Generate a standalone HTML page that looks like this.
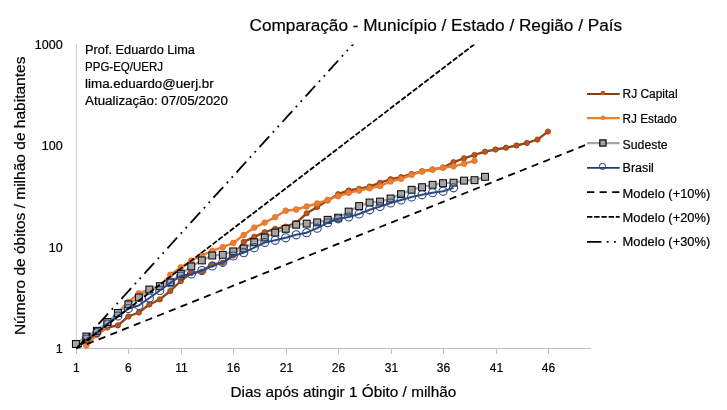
<!DOCTYPE html>
<html><head><meta charset="utf-8"><style>
html,body{margin:0;padding:0;background:#fff;}
svg{display:block;will-change:transform;}
text{font-family:"Liberation Sans",sans-serif;fill:#000;stroke:#000;stroke-width:0.2px;}
</style></head><body>
<svg width="727" height="410" viewBox="0 0 727 410">
<rect width="727" height="410" fill="#fff"/>
<defs><clipPath id="pc"><rect x="60" y="44.5" width="540" height="310"/></clipPath></defs>

<text x="249.6" y="31" font-size="17.2" textLength="372.5" lengthAdjust="spacingAndGlyphs">Comparação - Município / Estado / Região / País</text>
<g stroke="#bfbfbf" stroke-width="1" fill="none" shape-rendering="crispEdges">
<line x1="76.5" y1="43.6" x2="76.5" y2="353.5" stroke="#d0d0d0"/>
<line x1="76" y1="348.5" x2="590.5" y2="348.5"/>
<line x1="76.5" y1="348.5" x2="76.5" y2="353.5"/>
<line x1="128.5" y1="348.5" x2="128.5" y2="353.5"/>
<line x1="181.5" y1="348.5" x2="181.5" y2="353.5"/>
<line x1="233.5" y1="348.5" x2="233.5" y2="353.5"/>
<line x1="286.5" y1="348.5" x2="286.5" y2="353.5"/>
<line x1="338.5" y1="348.5" x2="338.5" y2="353.5"/>
<line x1="391.5" y1="348.5" x2="391.5" y2="353.5"/>
<line x1="443.5" y1="348.5" x2="443.5" y2="353.5"/>
<line x1="496.5" y1="348.5" x2="496.5" y2="353.5"/>
<line x1="548.5" y1="348.5" x2="548.5" y2="353.5"/>
</g>
<text x="62.6" y="352.7" font-size="12.5" text-anchor="end">1</text>
<text x="62.6" y="251.5" font-size="12.5" text-anchor="end">10</text>
<text x="62.6" y="150.2" font-size="12.5" text-anchor="end">100</text>
<text x="62.6" y="49.0" font-size="12.5" text-anchor="end">1000</text>
<text x="76.4" y="372" font-size="12" text-anchor="middle">1</text>
<text x="128.4" y="372" font-size="12" text-anchor="middle">6</text>
<text x="181.4" y="372" font-size="12" text-anchor="middle">11</text>
<text x="233.4" y="372" font-size="12" text-anchor="middle">16</text>
<text x="286.4" y="372" font-size="12" text-anchor="middle">21</text>
<text x="338.4" y="372" font-size="12" text-anchor="middle">26</text>
<text x="391.4" y="372" font-size="12" text-anchor="middle">31</text>
<text x="443.4" y="372" font-size="12" text-anchor="middle">36</text>
<text x="496.4" y="372" font-size="12" text-anchor="middle">41</text>
<text x="548.4" y="372" font-size="12" text-anchor="middle">46</text>
<text x="230.5" y="396.5" font-size="15" textLength="225.8" lengthAdjust="spacingAndGlyphs">Dias após atingir 1 Óbito / milhão</text>
<text transform="translate(25.3,335.1) rotate(-90)" x="0" y="0" font-size="15" textLength="278.5" lengthAdjust="spacingAndGlyphs">Número de óbitos / milhão de habitantes</text>
<text x="85.1" y="53.70" font-size="12" textLength="109.8" lengthAdjust="spacingAndGlyphs">Prof. Eduardo Lima</text>
<text x="85.1" y="70.60" font-size="12" textLength="77.9" lengthAdjust="spacingAndGlyphs">PPG-EQ/UERJ</text>
<text x="85.1" y="87.90" font-size="12" textLength="128.6" lengthAdjust="spacingAndGlyphs">lima.eduardo@uerj.br</text>
<text x="85.1" y="105.10" font-size="12" textLength="142.8" lengthAdjust="spacingAndGlyphs">Atualização: 07/05/2020</text>
<g clip-path="url(#pc)">
<polyline points="86.39,342.00 96.88,334.50 107.37,327.50 117.86,325.40 128.35,316.50 138.84,312.50 149.33,304.50 159.82,299.40 170.31,291.00 180.80,281.00 191.29,273.00 201.78,271.60 212.27,264.50 222.76,262.70 233.25,255.50 243.74,241.90 254.23,236.80 264.72,232.20 275.21,228.80 285.70,226.60 296.19,222.90 306.68,213.30 317.17,207.00 327.66,200.50 338.15,194.20 348.64,190.50 359.13,188.80 369.62,186.50 380.11,182.80 390.60,179.20 401.09,177.10 411.58,174.00 422.07,171.30 432.56,169.50 443.05,167.60 453.54,162.10 464.03,158.30 474.52,154.90 485.01,151.70 495.50,149.50 505.99,147.70 516.48,145.50 526.97,142.90 537.46,139.60 547.95,131.60" fill="none" stroke="#94461A" stroke-width="2.4" stroke-linejoin="round"/>
<circle cx="86.39" cy="342.00" r="2.65" fill="#B9581A" stroke="#8A3F10" stroke-width="0.8"/>
<circle cx="96.88" cy="334.50" r="2.65" fill="#B9581A" stroke="#8A3F10" stroke-width="0.8"/>
<circle cx="107.37" cy="327.50" r="2.65" fill="#B9581A" stroke="#8A3F10" stroke-width="0.8"/>
<circle cx="117.86" cy="325.40" r="2.65" fill="#B9581A" stroke="#8A3F10" stroke-width="0.8"/>
<circle cx="128.35" cy="316.50" r="2.65" fill="#B9581A" stroke="#8A3F10" stroke-width="0.8"/>
<circle cx="138.84" cy="312.50" r="2.65" fill="#B9581A" stroke="#8A3F10" stroke-width="0.8"/>
<circle cx="149.33" cy="304.50" r="2.65" fill="#B9581A" stroke="#8A3F10" stroke-width="0.8"/>
<circle cx="159.82" cy="299.40" r="2.65" fill="#B9581A" stroke="#8A3F10" stroke-width="0.8"/>
<circle cx="170.31" cy="291.00" r="2.65" fill="#B9581A" stroke="#8A3F10" stroke-width="0.8"/>
<circle cx="180.80" cy="281.00" r="2.65" fill="#B9581A" stroke="#8A3F10" stroke-width="0.8"/>
<circle cx="191.29" cy="273.00" r="2.65" fill="#B9581A" stroke="#8A3F10" stroke-width="0.8"/>
<circle cx="201.78" cy="271.60" r="2.65" fill="#B9581A" stroke="#8A3F10" stroke-width="0.8"/>
<circle cx="212.27" cy="264.50" r="2.65" fill="#B9581A" stroke="#8A3F10" stroke-width="0.8"/>
<circle cx="222.76" cy="262.70" r="2.65" fill="#B9581A" stroke="#8A3F10" stroke-width="0.8"/>
<circle cx="233.25" cy="255.50" r="2.65" fill="#B9581A" stroke="#8A3F10" stroke-width="0.8"/>
<circle cx="243.74" cy="241.90" r="2.65" fill="#B9581A" stroke="#8A3F10" stroke-width="0.8"/>
<circle cx="254.23" cy="236.80" r="2.65" fill="#B9581A" stroke="#8A3F10" stroke-width="0.8"/>
<circle cx="264.72" cy="232.20" r="2.65" fill="#B9581A" stroke="#8A3F10" stroke-width="0.8"/>
<circle cx="275.21" cy="228.80" r="2.65" fill="#B9581A" stroke="#8A3F10" stroke-width="0.8"/>
<circle cx="285.70" cy="226.60" r="2.65" fill="#B9581A" stroke="#8A3F10" stroke-width="0.8"/>
<circle cx="296.19" cy="222.90" r="2.65" fill="#B9581A" stroke="#8A3F10" stroke-width="0.8"/>
<circle cx="306.68" cy="213.30" r="2.65" fill="#B9581A" stroke="#8A3F10" stroke-width="0.8"/>
<circle cx="317.17" cy="207.00" r="2.65" fill="#B9581A" stroke="#8A3F10" stroke-width="0.8"/>
<circle cx="327.66" cy="200.50" r="2.65" fill="#B9581A" stroke="#8A3F10" stroke-width="0.8"/>
<circle cx="338.15" cy="194.20" r="2.65" fill="#B9581A" stroke="#8A3F10" stroke-width="0.8"/>
<circle cx="348.64" cy="190.50" r="2.65" fill="#B9581A" stroke="#8A3F10" stroke-width="0.8"/>
<circle cx="359.13" cy="188.80" r="2.65" fill="#B9581A" stroke="#8A3F10" stroke-width="0.8"/>
<circle cx="369.62" cy="186.50" r="2.65" fill="#B9581A" stroke="#8A3F10" stroke-width="0.8"/>
<circle cx="380.11" cy="182.80" r="2.65" fill="#B9581A" stroke="#8A3F10" stroke-width="0.8"/>
<circle cx="390.60" cy="179.20" r="2.65" fill="#B9581A" stroke="#8A3F10" stroke-width="0.8"/>
<circle cx="401.09" cy="177.10" r="2.65" fill="#B9581A" stroke="#8A3F10" stroke-width="0.8"/>
<circle cx="411.58" cy="174.00" r="2.65" fill="#B9581A" stroke="#8A3F10" stroke-width="0.8"/>
<circle cx="422.07" cy="171.30" r="2.65" fill="#B9581A" stroke="#8A3F10" stroke-width="0.8"/>
<circle cx="432.56" cy="169.50" r="2.65" fill="#B9581A" stroke="#8A3F10" stroke-width="0.8"/>
<circle cx="443.05" cy="167.60" r="2.65" fill="#B9581A" stroke="#8A3F10" stroke-width="0.8"/>
<circle cx="453.54" cy="162.10" r="2.65" fill="#B9581A" stroke="#8A3F10" stroke-width="0.8"/>
<circle cx="464.03" cy="158.30" r="2.65" fill="#B9581A" stroke="#8A3F10" stroke-width="0.8"/>
<circle cx="474.52" cy="154.90" r="2.65" fill="#B9581A" stroke="#8A3F10" stroke-width="0.8"/>
<circle cx="485.01" cy="151.70" r="2.65" fill="#B9581A" stroke="#8A3F10" stroke-width="0.8"/>
<circle cx="495.50" cy="149.50" r="2.65" fill="#B9581A" stroke="#8A3F10" stroke-width="0.8"/>
<circle cx="505.99" cy="147.70" r="2.65" fill="#B9581A" stroke="#8A3F10" stroke-width="0.8"/>
<circle cx="516.48" cy="145.50" r="2.65" fill="#B9581A" stroke="#8A3F10" stroke-width="0.8"/>
<circle cx="526.97" cy="142.90" r="2.65" fill="#B9581A" stroke="#8A3F10" stroke-width="0.8"/>
<circle cx="537.46" cy="139.60" r="2.65" fill="#B9581A" stroke="#8A3F10" stroke-width="0.8"/>
<circle cx="547.95" cy="131.60" r="2.65" fill="#B9581A" stroke="#8A3F10" stroke-width="0.8"/>
<polyline points="86.39,345.30 96.88,335.00 107.37,326.00 117.86,312.00 128.35,302.00 138.84,293.30 149.33,289.50 159.82,286.00 170.31,274.80 180.80,267.40 191.29,260.70 201.78,255.50 212.27,250.80 222.76,247.20 233.25,243.00 243.74,235.00 254.23,227.60 264.72,222.60 275.21,217.10 285.70,210.70 296.19,209.50 306.68,206.50 317.17,203.50 327.66,199.90 338.15,196.20 348.64,192.80 359.13,190.50 369.62,188.30 380.11,186.10 390.60,181.50 401.09,178.80 411.58,174.80 422.07,171.50 432.56,169.60 443.05,167.70 453.54,166.30 464.03,163.70 474.52,160.80" fill="none" stroke="#ED7D31" stroke-width="2.4" stroke-linejoin="round"/>
<circle cx="86.39" cy="345.30" r="2.9" fill="#ED7D31" stroke="#D96E28" stroke-width="0.6"/>
<circle cx="96.88" cy="335.00" r="2.9" fill="#ED7D31" stroke="#D96E28" stroke-width="0.6"/>
<circle cx="107.37" cy="326.00" r="2.9" fill="#ED7D31" stroke="#D96E28" stroke-width="0.6"/>
<circle cx="117.86" cy="312.00" r="2.9" fill="#ED7D31" stroke="#D96E28" stroke-width="0.6"/>
<circle cx="128.35" cy="302.00" r="2.9" fill="#ED7D31" stroke="#D96E28" stroke-width="0.6"/>
<circle cx="138.84" cy="293.30" r="2.9" fill="#ED7D31" stroke="#D96E28" stroke-width="0.6"/>
<circle cx="149.33" cy="289.50" r="2.9" fill="#ED7D31" stroke="#D96E28" stroke-width="0.6"/>
<circle cx="159.82" cy="286.00" r="2.9" fill="#ED7D31" stroke="#D96E28" stroke-width="0.6"/>
<circle cx="170.31" cy="274.80" r="2.9" fill="#ED7D31" stroke="#D96E28" stroke-width="0.6"/>
<circle cx="180.80" cy="267.40" r="2.9" fill="#ED7D31" stroke="#D96E28" stroke-width="0.6"/>
<circle cx="191.29" cy="260.70" r="2.9" fill="#ED7D31" stroke="#D96E28" stroke-width="0.6"/>
<circle cx="201.78" cy="255.50" r="2.9" fill="#ED7D31" stroke="#D96E28" stroke-width="0.6"/>
<circle cx="212.27" cy="250.80" r="2.9" fill="#ED7D31" stroke="#D96E28" stroke-width="0.6"/>
<circle cx="222.76" cy="247.20" r="2.9" fill="#ED7D31" stroke="#D96E28" stroke-width="0.6"/>
<circle cx="233.25" cy="243.00" r="2.9" fill="#ED7D31" stroke="#D96E28" stroke-width="0.6"/>
<circle cx="243.74" cy="235.00" r="2.9" fill="#ED7D31" stroke="#D96E28" stroke-width="0.6"/>
<circle cx="254.23" cy="227.60" r="2.9" fill="#ED7D31" stroke="#D96E28" stroke-width="0.6"/>
<circle cx="264.72" cy="222.60" r="2.9" fill="#ED7D31" stroke="#D96E28" stroke-width="0.6"/>
<circle cx="275.21" cy="217.10" r="2.9" fill="#ED7D31" stroke="#D96E28" stroke-width="0.6"/>
<circle cx="285.70" cy="210.70" r="2.9" fill="#ED7D31" stroke="#D96E28" stroke-width="0.6"/>
<circle cx="296.19" cy="209.50" r="2.9" fill="#ED7D31" stroke="#D96E28" stroke-width="0.6"/>
<circle cx="306.68" cy="206.50" r="2.9" fill="#ED7D31" stroke="#D96E28" stroke-width="0.6"/>
<circle cx="317.17" cy="203.50" r="2.9" fill="#ED7D31" stroke="#D96E28" stroke-width="0.6"/>
<circle cx="327.66" cy="199.90" r="2.9" fill="#ED7D31" stroke="#D96E28" stroke-width="0.6"/>
<circle cx="338.15" cy="196.20" r="2.9" fill="#ED7D31" stroke="#D96E28" stroke-width="0.6"/>
<circle cx="348.64" cy="192.80" r="2.9" fill="#ED7D31" stroke="#D96E28" stroke-width="0.6"/>
<circle cx="359.13" cy="190.50" r="2.9" fill="#ED7D31" stroke="#D96E28" stroke-width="0.6"/>
<circle cx="369.62" cy="188.30" r="2.9" fill="#ED7D31" stroke="#D96E28" stroke-width="0.6"/>
<circle cx="380.11" cy="186.10" r="2.9" fill="#ED7D31" stroke="#D96E28" stroke-width="0.6"/>
<circle cx="390.60" cy="181.50" r="2.9" fill="#ED7D31" stroke="#D96E28" stroke-width="0.6"/>
<circle cx="401.09" cy="178.80" r="2.9" fill="#ED7D31" stroke="#D96E28" stroke-width="0.6"/>
<circle cx="411.58" cy="174.80" r="2.9" fill="#ED7D31" stroke="#D96E28" stroke-width="0.6"/>
<circle cx="422.07" cy="171.50" r="2.9" fill="#ED7D31" stroke="#D96E28" stroke-width="0.6"/>
<circle cx="432.56" cy="169.60" r="2.9" fill="#ED7D31" stroke="#D96E28" stroke-width="0.6"/>
<circle cx="443.05" cy="167.70" r="2.9" fill="#ED7D31" stroke="#D96E28" stroke-width="0.6"/>
<circle cx="453.54" cy="166.30" r="2.9" fill="#ED7D31" stroke="#D96E28" stroke-width="0.6"/>
<circle cx="464.03" cy="163.70" r="2.9" fill="#ED7D31" stroke="#D96E28" stroke-width="0.6"/>
<circle cx="474.52" cy="160.80" r="2.9" fill="#ED7D31" stroke="#D96E28" stroke-width="0.6"/>
<polyline points="75.90,344.00 86.39,336.50 96.88,330.80 107.37,322.00 117.86,313.00 128.35,304.40 138.84,297.50 149.33,289.50 159.82,286.20 170.31,282.30 180.80,273.80 191.29,266.40 201.78,260.40 212.27,255.50 222.76,254.80 233.25,251.40 243.74,248.50 254.23,242.30 264.72,237.50 275.21,232.60 285.70,228.80 296.19,224.70 306.68,223.60 317.17,222.40 327.66,219.80 338.15,217.70 348.64,211.60 359.13,206.10 369.62,202.50 380.11,201.60 390.60,198.50 401.09,194.20 411.58,189.80 422.07,187.20 432.56,184.80 443.05,183.20 453.54,182.70 464.03,180.60 474.52,180.20 485.01,176.80" fill="none" stroke="#A5A5A5" stroke-width="2.25" stroke-linejoin="round"/>
<rect x="72.45" y="340.55" width="6.9" height="6.9" fill="#A5A5A5" stroke="#000" stroke-width="1.0"/>
<rect x="82.94" y="333.05" width="6.9" height="6.9" fill="#A5A5A5" stroke="#000" stroke-width="1.0"/>
<rect x="93.43" y="327.35" width="6.9" height="6.9" fill="#A5A5A5" stroke="#000" stroke-width="1.0"/>
<rect x="103.92" y="318.55" width="6.9" height="6.9" fill="#A5A5A5" stroke="#000" stroke-width="1.0"/>
<rect x="114.41" y="309.55" width="6.9" height="6.9" fill="#A5A5A5" stroke="#000" stroke-width="1.0"/>
<rect x="124.90" y="300.95" width="6.9" height="6.9" fill="#A5A5A5" stroke="#000" stroke-width="1.0"/>
<rect x="135.39" y="294.05" width="6.9" height="6.9" fill="#A5A5A5" stroke="#000" stroke-width="1.0"/>
<rect x="145.88" y="286.05" width="6.9" height="6.9" fill="#A5A5A5" stroke="#000" stroke-width="1.0"/>
<rect x="156.37" y="282.75" width="6.9" height="6.9" fill="#A5A5A5" stroke="#000" stroke-width="1.0"/>
<rect x="166.86" y="278.85" width="6.9" height="6.9" fill="#A5A5A5" stroke="#000" stroke-width="1.0"/>
<rect x="177.35" y="270.35" width="6.9" height="6.9" fill="#A5A5A5" stroke="#000" stroke-width="1.0"/>
<rect x="187.84" y="262.95" width="6.9" height="6.9" fill="#A5A5A5" stroke="#000" stroke-width="1.0"/>
<rect x="198.33" y="256.95" width="6.9" height="6.9" fill="#A5A5A5" stroke="#000" stroke-width="1.0"/>
<rect x="208.82" y="252.05" width="6.9" height="6.9" fill="#A5A5A5" stroke="#000" stroke-width="1.0"/>
<rect x="219.31" y="251.35" width="6.9" height="6.9" fill="#A5A5A5" stroke="#000" stroke-width="1.0"/>
<rect x="229.80" y="247.95" width="6.9" height="6.9" fill="#A5A5A5" stroke="#000" stroke-width="1.0"/>
<rect x="240.29" y="245.05" width="6.9" height="6.9" fill="#A5A5A5" stroke="#000" stroke-width="1.0"/>
<rect x="250.78" y="238.85" width="6.9" height="6.9" fill="#A5A5A5" stroke="#000" stroke-width="1.0"/>
<rect x="261.27" y="234.05" width="6.9" height="6.9" fill="#A5A5A5" stroke="#000" stroke-width="1.0"/>
<rect x="271.76" y="229.15" width="6.9" height="6.9" fill="#A5A5A5" stroke="#000" stroke-width="1.0"/>
<rect x="282.25" y="225.35" width="6.9" height="6.9" fill="#A5A5A5" stroke="#000" stroke-width="1.0"/>
<rect x="292.74" y="221.25" width="6.9" height="6.9" fill="#A5A5A5" stroke="#000" stroke-width="1.0"/>
<rect x="303.23" y="220.15" width="6.9" height="6.9" fill="#A5A5A5" stroke="#000" stroke-width="1.0"/>
<rect x="313.72" y="218.95" width="6.9" height="6.9" fill="#A5A5A5" stroke="#000" stroke-width="1.0"/>
<rect x="324.21" y="216.35" width="6.9" height="6.9" fill="#A5A5A5" stroke="#000" stroke-width="1.0"/>
<rect x="334.70" y="214.25" width="6.9" height="6.9" fill="#A5A5A5" stroke="#000" stroke-width="1.0"/>
<rect x="345.19" y="208.15" width="6.9" height="6.9" fill="#A5A5A5" stroke="#000" stroke-width="1.0"/>
<rect x="355.68" y="202.65" width="6.9" height="6.9" fill="#A5A5A5" stroke="#000" stroke-width="1.0"/>
<rect x="366.17" y="199.05" width="6.9" height="6.9" fill="#A5A5A5" stroke="#000" stroke-width="1.0"/>
<rect x="376.66" y="198.15" width="6.9" height="6.9" fill="#A5A5A5" stroke="#000" stroke-width="1.0"/>
<rect x="387.15" y="195.05" width="6.9" height="6.9" fill="#A5A5A5" stroke="#000" stroke-width="1.0"/>
<rect x="397.64" y="190.75" width="6.9" height="6.9" fill="#A5A5A5" stroke="#000" stroke-width="1.0"/>
<rect x="408.13" y="186.35" width="6.9" height="6.9" fill="#A5A5A5" stroke="#000" stroke-width="1.0"/>
<rect x="418.62" y="183.75" width="6.9" height="6.9" fill="#A5A5A5" stroke="#000" stroke-width="1.0"/>
<rect x="429.11" y="181.35" width="6.9" height="6.9" fill="#A5A5A5" stroke="#000" stroke-width="1.0"/>
<rect x="439.60" y="179.75" width="6.9" height="6.9" fill="#A5A5A5" stroke="#000" stroke-width="1.0"/>
<rect x="450.09" y="179.25" width="6.9" height="6.9" fill="#A5A5A5" stroke="#000" stroke-width="1.0"/>
<rect x="460.58" y="177.15" width="6.9" height="6.9" fill="#A5A5A5" stroke="#000" stroke-width="1.0"/>
<rect x="471.07" y="176.75" width="6.9" height="6.9" fill="#A5A5A5" stroke="#000" stroke-width="1.0"/>
<rect x="481.56" y="173.35" width="6.9" height="6.9" fill="#A5A5A5" stroke="#000" stroke-width="1.0"/>
<polyline points="86.39,339.00 96.88,332.50 107.37,324.00 117.86,316.00 128.35,308.50 138.84,305.50 149.33,298.00 159.82,290.50 170.31,283.00 180.80,276.00 191.29,274.00 201.78,270.50 212.27,266.00 222.76,262.30 233.25,256.00 243.74,252.70 254.23,247.70 264.72,242.50 275.21,240.30 285.70,237.80 296.19,234.80 306.68,232.70 317.17,228.20 327.66,222.80 338.15,218.80 348.64,217.00 359.13,214.00 369.62,209.80 380.11,206.60 390.60,203.00 401.09,200.00 411.58,197.00 422.07,194.80 432.56,192.70 443.05,191.20 453.54,187.80" fill="none" stroke="#2A4883" stroke-width="2.0" stroke-linejoin="round"/>
<circle cx="86.39" cy="339.00" r="4.05" fill="none" stroke="#2A4883" stroke-width="1.1"/>
<circle cx="96.88" cy="332.50" r="4.05" fill="none" stroke="#2A4883" stroke-width="1.1"/>
<circle cx="107.37" cy="324.00" r="4.05" fill="none" stroke="#2A4883" stroke-width="1.1"/>
<circle cx="117.86" cy="316.00" r="4.05" fill="none" stroke="#2A4883" stroke-width="1.1"/>
<circle cx="128.35" cy="308.50" r="4.05" fill="none" stroke="#2A4883" stroke-width="1.1"/>
<circle cx="138.84" cy="305.50" r="4.05" fill="none" stroke="#2A4883" stroke-width="1.1"/>
<circle cx="149.33" cy="298.00" r="4.05" fill="none" stroke="#2A4883" stroke-width="1.1"/>
<circle cx="159.82" cy="290.50" r="4.05" fill="none" stroke="#2A4883" stroke-width="1.1"/>
<circle cx="170.31" cy="283.00" r="4.05" fill="none" stroke="#2A4883" stroke-width="1.1"/>
<circle cx="180.80" cy="276.00" r="4.05" fill="none" stroke="#2A4883" stroke-width="1.1"/>
<circle cx="191.29" cy="274.00" r="4.05" fill="none" stroke="#2A4883" stroke-width="1.1"/>
<circle cx="201.78" cy="270.50" r="4.05" fill="none" stroke="#2A4883" stroke-width="1.1"/>
<circle cx="212.27" cy="266.00" r="4.05" fill="none" stroke="#2A4883" stroke-width="1.1"/>
<circle cx="222.76" cy="262.30" r="4.05" fill="none" stroke="#2A4883" stroke-width="1.1"/>
<circle cx="233.25" cy="256.00" r="4.05" fill="none" stroke="#2A4883" stroke-width="1.1"/>
<circle cx="243.74" cy="252.70" r="4.05" fill="none" stroke="#2A4883" stroke-width="1.1"/>
<circle cx="254.23" cy="247.70" r="4.05" fill="none" stroke="#2A4883" stroke-width="1.1"/>
<circle cx="264.72" cy="242.50" r="4.05" fill="none" stroke="#2A4883" stroke-width="1.1"/>
<circle cx="275.21" cy="240.30" r="4.05" fill="none" stroke="#2A4883" stroke-width="1.1"/>
<circle cx="285.70" cy="237.80" r="4.05" fill="none" stroke="#2A4883" stroke-width="1.1"/>
<circle cx="296.19" cy="234.80" r="4.05" fill="none" stroke="#2A4883" stroke-width="1.1"/>
<circle cx="306.68" cy="232.70" r="4.05" fill="none" stroke="#2A4883" stroke-width="1.1"/>
<circle cx="317.17" cy="228.20" r="4.05" fill="none" stroke="#2A4883" stroke-width="1.1"/>
<circle cx="327.66" cy="222.80" r="4.05" fill="none" stroke="#2A4883" stroke-width="1.1"/>
<circle cx="338.15" cy="218.80" r="4.05" fill="none" stroke="#2A4883" stroke-width="1.1"/>
<circle cx="348.64" cy="217.00" r="4.05" fill="none" stroke="#2A4883" stroke-width="1.1"/>
<circle cx="359.13" cy="214.00" r="4.05" fill="none" stroke="#2A4883" stroke-width="1.1"/>
<circle cx="369.62" cy="209.80" r="4.05" fill="none" stroke="#2A4883" stroke-width="1.1"/>
<circle cx="380.11" cy="206.60" r="4.05" fill="none" stroke="#2A4883" stroke-width="1.1"/>
<circle cx="390.60" cy="203.00" r="4.05" fill="none" stroke="#2A4883" stroke-width="1.1"/>
<circle cx="401.09" cy="200.00" r="4.05" fill="none" stroke="#2A4883" stroke-width="1.1"/>
<circle cx="411.58" cy="197.00" r="4.05" fill="none" stroke="#2A4883" stroke-width="1.1"/>
<circle cx="422.07" cy="194.80" r="4.05" fill="none" stroke="#2A4883" stroke-width="1.1"/>
<circle cx="432.56" cy="192.70" r="4.05" fill="none" stroke="#2A4883" stroke-width="1.1"/>
<circle cx="443.05" cy="191.20" r="4.05" fill="none" stroke="#2A4883" stroke-width="1.1"/>
<circle cx="453.54" cy="187.80" r="4.05" fill="none" stroke="#2A4883" stroke-width="1.1"/>
<polyline points="76.50,348.30 79.12,347.25 81.75,346.20 84.37,345.16 86.99,344.11 89.61,343.06 92.23,342.01 94.86,340.97 97.48,339.92 100.10,338.87 102.72,337.82 105.35,336.78 107.97,335.73 110.59,334.68 113.22,333.63 115.84,332.59 118.46,331.54 121.08,330.49 123.70,329.44 126.33,328.40 128.95,327.35 131.57,326.30 134.19,325.25 136.82,324.21 139.44,323.16 142.06,322.11 144.69,321.06 147.31,320.02 149.93,318.97 152.55,317.92 155.18,316.87 157.80,315.83 160.42,314.78 163.04,313.73 165.67,312.68 168.29,311.64 170.91,310.59 173.53,309.54 176.16,308.49 178.78,307.45 181.40,306.40 184.02,305.35 186.64,304.30 189.27,303.26 191.89,302.21 194.51,301.16 197.13,300.11 199.76,299.07 202.38,298.02 205.00,296.97 207.62,295.92 210.25,294.88 212.87,293.83 215.49,292.78 218.12,291.73 220.74,290.69 223.36,289.64 225.98,288.59 228.60,287.54 231.23,286.49 233.85,285.45 236.47,284.40 239.09,283.35 241.72,282.30 244.34,281.26 246.96,280.21 249.59,279.16 252.21,278.11 254.83,277.07 257.45,276.02 260.08,274.97 262.70,273.92 265.32,272.88 267.94,271.83 270.56,270.78 273.19,269.73 275.81,268.69 278.43,267.64 281.06,266.59 283.68,265.54 286.30,264.50 288.92,263.45 291.55,262.40 294.17,261.35 296.79,260.31 299.41,259.26 302.03,258.21 304.66,257.16 307.28,256.12 309.90,255.07 312.52,254.02 315.15,252.97 317.77,251.93 320.39,250.88 323.01,249.83 325.64,248.78 328.26,247.74 330.88,246.69 333.50,245.64 336.13,244.59 338.75,243.55 341.37,242.50 344.00,241.45 346.62,240.40 349.24,239.36 351.86,238.31 354.49,237.26 357.11,236.21 359.73,235.17 362.35,234.12 364.98,233.07 367.60,232.02 370.22,230.97 372.84,229.93 375.47,228.88 378.09,227.83 380.71,226.78 383.33,225.74 385.95,224.69 388.58,223.64 391.20,222.59 393.82,221.55 396.44,220.50 399.07,219.45 401.69,218.40 404.31,217.36 406.94,216.31 409.56,215.26 412.18,214.21 414.80,213.17 417.43,212.12 420.05,211.07 422.67,210.02 425.29,208.98 427.92,207.93 430.54,206.88 433.16,205.83 435.78,204.79 438.41,203.74 441.03,202.69 443.65,201.64 446.27,200.60 448.89,199.55 451.52,198.50 454.14,197.45 456.76,196.41 459.38,195.36 462.01,194.31 464.63,193.26 467.25,192.22 469.88,191.17 472.50,190.12 475.12,189.07 477.74,188.03 480.37,186.98 482.99,185.93 485.61,184.88 488.23,183.84 490.86,182.79 493.48,181.74 496.10,180.69 498.72,179.65 501.35,178.60 503.97,177.55 506.59,176.50 509.21,175.46 511.84,174.41 514.46,173.36 517.08,172.31 519.70,171.26 522.33,170.22 524.95,169.17 527.57,168.12 530.19,167.07 532.82,166.03 535.44,164.98 538.06,163.93 540.68,162.88 543.31,161.84 545.93,160.79 548.55,159.74 551.17,158.69 553.80,157.65 556.42,156.60 559.04,155.55 561.66,154.50 564.29,153.46 566.91,152.41 569.53,151.36 572.15,150.31 574.78,149.27 577.40,148.22 580.02,147.17 582.64,146.12 585.26,145.08 587.89,144.03 590.51,142.98" fill="none" stroke="#000" stroke-width="1.8" stroke-dasharray="7.20 5.40" stroke-dashoffset="1.35"/>
<polyline points="76.50,348.30 79.12,346.30 81.75,344.29 84.37,342.29 86.99,340.28 89.61,338.28 92.23,336.28 94.86,334.27 97.48,332.27 100.10,330.27 102.72,328.26 105.35,326.26 107.97,324.25 110.59,322.25 113.22,320.25 115.84,318.24 118.46,316.24 121.08,314.23 123.70,312.23 126.33,310.23 128.95,308.22 131.57,306.22 134.19,304.21 136.82,302.21 139.44,300.21 142.06,298.20 144.69,296.20 147.31,294.20 149.93,292.19 152.55,290.19 155.18,288.18 157.80,286.18 160.42,284.18 163.04,282.17 165.67,280.17 168.29,278.16 170.91,276.16 173.53,274.16 176.16,272.15 178.78,270.15 181.40,268.14 184.02,266.14 186.64,264.14 189.27,262.13 191.89,260.13 194.51,258.13 197.13,256.12 199.76,254.12 202.38,252.11 205.00,250.11 207.62,248.11 210.25,246.10 212.87,244.10 215.49,242.09 218.12,240.09 220.74,238.09 223.36,236.08 225.98,234.08 228.60,232.07 231.23,230.07 233.85,228.07 236.47,226.06 239.09,224.06 241.72,222.06 244.34,220.05 246.96,218.05 249.59,216.04 252.21,214.04 254.83,212.04 257.45,210.03 260.08,208.03 262.70,206.02 265.32,204.02 267.94,202.02 270.56,200.01 273.19,198.01 275.81,196.01 278.43,194.00 281.06,192.00 283.68,189.99 286.30,187.99 288.92,185.99 291.55,183.98 294.17,181.98 296.79,179.97 299.41,177.97 302.03,175.97 304.66,173.96 307.28,171.96 309.90,169.95 312.52,167.95 315.15,165.95 317.77,163.94 320.39,161.94 323.01,159.94 325.64,157.93 328.26,155.93 330.88,153.92 333.50,151.92 336.13,149.92 338.75,147.91 341.37,145.91 344.00,143.90 346.62,141.90 349.24,139.90 351.86,137.89 354.49,135.89 357.11,133.88 359.73,131.88 362.35,129.88 364.98,127.87 367.60,125.87 370.22,123.87 372.84,121.86 375.47,119.86 378.09,117.85 380.71,115.85 383.33,113.85 385.95,111.84 388.58,109.84 391.20,107.83 393.82,105.83 396.44,103.83 399.07,101.82 401.69,99.82 404.31,97.82 406.94,95.81 409.56,93.81 412.18,91.80 414.80,89.80 417.43,87.80 420.05,85.79 422.67,83.79 425.29,81.78 427.92,79.78 430.54,77.78 433.16,75.77 435.78,73.77 438.41,71.76 441.03,69.76 443.65,67.76 446.27,65.75 448.89,63.75 451.52,61.75 454.14,59.74 456.76,57.74 459.38,55.73 462.01,53.73 464.63,51.73 467.25,49.72 469.88,47.72 472.50,45.71 475.12,43.71 477.74,41.71 480.37,39.70 482.99,37.70 485.61,35.69 488.23,33.69 490.86,31.69 493.48,29.68 496.10,27.68 498.72,25.68 501.35,23.67 503.97,21.67 506.59,19.66 509.21,17.66 511.84,15.66 514.46,13.65 517.08,11.65 519.70,9.64 522.33,7.64 524.95,5.64 527.57,3.63 530.19,1.63 532.82,-0.38 535.44,-2.38 538.06,-4.38 540.68,-6.39 543.31,-8.39 545.93,-10.39 548.55,-12.40 551.17,-14.40 553.80,-16.41 556.42,-18.41 559.04,-20.41 561.66,-22.42 564.29,-24.42 566.91,-26.43 569.53,-28.43 572.15,-30.43 574.78,-32.44 577.40,-34.44 580.02,-36.44 582.64,-38.45 585.26,-40.45 587.89,-42.46 590.51,-44.46" fill="none" stroke="#000" stroke-width="1.8" stroke-dasharray="5.40 1.80" stroke-dashoffset="1.5"/>
<polyline points="76.50,348.30 79.12,345.42 81.75,342.53 84.37,339.65 86.99,336.77 89.61,333.88 92.23,331.00 94.86,328.11 97.48,325.23 100.10,322.35 102.72,319.46 105.35,316.58 107.97,313.70 110.59,310.81 113.22,307.93 115.84,305.05 118.46,302.16 121.08,299.28 123.70,296.39 126.33,293.51 128.95,290.63 131.57,287.74 134.19,284.86 136.82,281.98 139.44,279.09 142.06,276.21 144.69,273.33 147.31,270.44 149.93,267.56 152.55,264.67 155.18,261.79 157.80,258.91 160.42,256.02 163.04,253.14 165.67,250.26 168.29,247.37 170.91,244.49 173.53,241.61 176.16,238.72 178.78,235.84 181.40,232.96 184.02,230.07 186.64,227.19 189.27,224.30 191.89,221.42 194.51,218.54 197.13,215.65 199.76,212.77 202.38,209.89 205.00,207.00 207.62,204.12 210.25,201.24 212.87,198.35 215.49,195.47 218.12,192.58 220.74,189.70 223.36,186.82 225.98,183.93 228.60,181.05 231.23,178.17 233.85,175.28 236.47,172.40 239.09,169.52 241.72,166.63 244.34,163.75 246.96,160.86 249.59,157.98 252.21,155.10 254.83,152.21 257.45,149.33 260.08,146.45 262.70,143.56 265.32,140.68 267.94,137.80 270.56,134.91 273.19,132.03 275.81,129.14 278.43,126.26 281.06,123.38 283.68,120.49 286.30,117.61 288.92,114.73 291.55,111.84 294.17,108.96 296.79,106.08 299.41,103.19 302.03,100.31 304.66,97.42 307.28,94.54 309.90,91.66 312.52,88.77 315.15,85.89 317.77,83.01 320.39,80.12 323.01,77.24 325.64,74.36 328.26,71.47 330.88,68.59 333.50,65.71 336.13,62.82 338.75,59.94 341.37,57.05 344.00,54.17 346.62,51.29 349.24,48.40 351.86,45.52 354.49,42.64 357.11,39.75 359.73,36.87 362.35,33.99 364.98,31.10 367.60,28.22 370.22,25.33 372.84,22.45 375.47,19.57 378.09,16.68 380.71,13.80 383.33,10.92 385.95,8.03 388.58,5.15 391.20,2.27 393.82,-0.62 396.44,-3.50 399.07,-6.39 401.69,-9.27 404.31,-12.15 406.94,-15.04 409.56,-17.92 412.18,-20.80 414.80,-23.69 417.43,-26.57 420.05,-29.45 422.67,-32.34 425.29,-35.22 427.92,-38.11 430.54,-40.99 433.16,-43.87 435.78,-46.76 438.41,-49.64 441.03,-52.52 443.65,-55.41 446.27,-58.29 448.89,-61.17 451.52,-64.06 454.14,-66.94 456.76,-69.83 459.38,-72.71 462.01,-75.59 464.63,-78.48 467.25,-81.36 469.88,-84.24 472.50,-87.13 475.12,-90.01 477.74,-92.89 480.37,-95.78 482.99,-98.66 485.61,-101.54 488.23,-104.43 490.86,-107.31 493.48,-110.20 496.10,-113.08 498.72,-115.96 501.35,-118.85 503.97,-121.73 506.59,-124.61 509.21,-127.50 511.84,-130.38 514.46,-133.26 517.08,-136.15 519.70,-139.03 522.33,-141.92 524.95,-144.80 527.57,-147.68 530.19,-150.57 532.82,-153.45 535.44,-156.33 538.06,-159.22 540.68,-162.10 543.31,-164.98 545.93,-167.87 548.55,-170.75 551.17,-173.64 553.80,-176.52 556.42,-179.40 559.04,-182.29 561.66,-185.17 564.29,-188.05 566.91,-190.94 569.53,-193.82 572.15,-196.70 574.78,-199.59 577.40,-202.47 580.02,-205.36 582.64,-208.24 585.26,-211.12 587.89,-214.01 590.51,-216.89" fill="none" stroke="#000" stroke-width="1.8" stroke-dasharray="14.40 5.40 1.80 5.40 1.80 5.40" stroke-dashoffset="1.6"/>
</g>
<text x="622.6" y="98.10" font-size="12" textLength="55.0" lengthAdjust="spacingAndGlyphs">RJ Capital</text>
<text x="622.6" y="123.20" font-size="12" textLength="54.3" lengthAdjust="spacingAndGlyphs">RJ Estado</text>
<text x="622.6" y="148.50" font-size="12" textLength="45.1" lengthAdjust="spacingAndGlyphs">Sudeste</text>
<text x="622.6" y="172.10" font-size="12" textLength="31.3" lengthAdjust="spacingAndGlyphs">Brasil</text>
<text x="622.6" y="197.50" font-size="12" textLength="87.6" lengthAdjust="spacingAndGlyphs">Modelo (+10%)</text>
<text x="622.6" y="221.70" font-size="12" textLength="87.6" lengthAdjust="spacingAndGlyphs">Modelo (+20%)</text>
<text x="622.6" y="245.80" font-size="12" textLength="87.6" lengthAdjust="spacingAndGlyphs">Modelo (+30%)</text>
<line x1="587.0" y1="94.0" x2="619.7" y2="94.0" stroke="#843C12" stroke-width="2.1"/><circle cx="602.9" cy="93.0" r="2.3" fill="#B9581A"/>
<line x1="587.0" y1="118.1" x2="619.7" y2="118.1" stroke="#ED7D31" stroke-width="2.25"/><circle cx="602.9" cy="117.8" r="2.4" fill="#ED7D31"/>
<line x1="587.0" y1="143.0" x2="619.7" y2="143.0" stroke="#A5A5A5" stroke-width="2.25"/><rect x="599.8" y="139.9" width="6.2" height="6.2" fill="#A5A5A5" stroke="#000" stroke-width="1.2"/>
<line x1="587.0" y1="167.9" x2="619.7" y2="167.9" stroke="#223A6C" stroke-width="1.8"/><circle cx="602.5" cy="166.4" r="3.1" fill="none" stroke="#223A6C" stroke-width="1.0"/>
<line x1="587.0" y1="192.1" x2="619.7" y2="192.1" stroke="#000" stroke-width="1.8" stroke-dasharray="7.20 5.40"/>
<line x1="587.0" y1="216.9" x2="619.7" y2="216.9" stroke="#000" stroke-width="1.8" stroke-dasharray="5.40 1.80"/>
<line x1="587.0" y1="241.9" x2="619.7" y2="241.9" stroke="#000" stroke-width="1.8" stroke-dasharray="14.40 5.40 1.80 5.40 1.80 5.40"/>
</svg></body></html>
